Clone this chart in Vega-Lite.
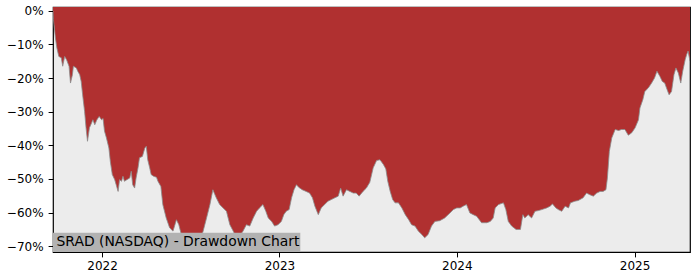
{
  "$schema": "https://vega.github.io/schema/vega-lite/v6.json",
  "width": 637,
  "height": 245,
  "autosize": {"type": "none"},
  "padding": {"left": 53, "top": 7, "right": 10, "bottom": 28},
  "background": "white",
  "config": {
    "view": {"fill": "#ececec", "stroke": "#000000", "strokeWidth": 1.2},
    "font": "DejaVu Sans",
    "axis": {
      "labelFont": "DejaVu Sans",
      "labelFontSize": 12,
      "labelColor": "#000000",
      "tickColor": "#000000",
      "tickSize": 4.9,
      "tickWidth": 1,
      "domain": false,
      "grid": false,
      "title": null,
      "labelOverlap": false
    }
  },
  "datasets": {
    "dd": [
      {"date": "2021-09-22", "dd": 0},
      {"date": "2021-09-23", "dd": -2.7},
      {"date": "2021-09-27", "dd": -8.1},
      {"date": "2021-09-30", "dd": -11.1},
      {"date": "2021-10-04", "dd": -13.6},
      {"date": "2021-10-09", "dd": -14},
      {"date": "2021-10-12", "dd": -16.5},
      {"date": "2021-10-16", "dd": -13.6},
      {"date": "2021-10-20", "dd": -14.6},
      {"date": "2021-10-25", "dd": -16.5},
      {"date": "2021-10-28", "dd": -21.5},
      {"date": "2021-11-01", "dd": -19},
      {"date": "2021-11-03", "dd": -16.5},
      {"date": "2021-11-09", "dd": -17},
      {"date": "2021-11-12", "dd": -18},
      {"date": "2021-11-16", "dd": -19},
      {"date": "2021-11-19", "dd": -21},
      {"date": "2021-11-22", "dd": -25},
      {"date": "2021-11-26", "dd": -29.9},
      {"date": "2021-11-29", "dd": -34.8},
      {"date": "2021-12-02", "dd": -38.8},
      {"date": "2021-12-06", "dd": -34.8},
      {"date": "2021-12-10", "dd": -33.5},
      {"date": "2021-12-13", "dd": -32.4},
      {"date": "2021-12-17", "dd": -33.9},
      {"date": "2021-12-21", "dd": -32.5},
      {"date": "2021-12-26", "dd": -31.4},
      {"date": "2021-12-31", "dd": -32.4},
      {"date": "2022-01-03", "dd": -32},
      {"date": "2022-01-06", "dd": -35.8},
      {"date": "2022-01-10", "dd": -37.8},
      {"date": "2022-01-15", "dd": -40.8},
      {"date": "2022-01-18", "dd": -44.8},
      {"date": "2022-01-22", "dd": -48.7},
      {"date": "2022-01-27", "dd": -50.2},
      {"date": "2022-01-30", "dd": -51.7},
      {"date": "2022-02-03", "dd": -53.7},
      {"date": "2022-02-06", "dd": -50.2},
      {"date": "2022-02-10", "dd": -50.7},
      {"date": "2022-02-13", "dd": -49.2},
      {"date": "2022-02-16", "dd": -50.7},
      {"date": "2022-02-21", "dd": -50.2},
      {"date": "2022-02-27", "dd": -49.7},
      {"date": "2022-03-02", "dd": -47.7},
      {"date": "2022-03-05", "dd": -51.7},
      {"date": "2022-03-09", "dd": -52.7},
      {"date": "2022-03-12", "dd": -49.7},
      {"date": "2022-03-16", "dd": -46.7},
      {"date": "2022-03-19", "dd": -43.7},
      {"date": "2022-03-25", "dd": -43.3},
      {"date": "2022-03-30", "dd": -40.8},
      {"date": "2022-04-02", "dd": -40.3},
      {"date": "2022-04-05", "dd": -44.3},
      {"date": "2022-04-09", "dd": -46.7},
      {"date": "2022-04-12", "dd": -48.7},
      {"date": "2022-04-17", "dd": -49.2},
      {"date": "2022-04-23", "dd": -49.5},
      {"date": "2022-04-26", "dd": -50.7},
      {"date": "2022-05-02", "dd": -52.2},
      {"date": "2022-05-06", "dd": -57.6},
      {"date": "2022-05-13", "dd": -61.6},
      {"date": "2022-05-20", "dd": -64.5},
      {"date": "2022-05-27", "dd": -65.5},
      {"date": "2022-06-03", "dd": -62.1},
      {"date": "2022-06-08", "dd": -63.6},
      {"date": "2022-06-13", "dd": -66.5},
      {"date": "2022-06-23", "dd": -68.5},
      {"date": "2022-07-04", "dd": -69.5},
      {"date": "2022-07-12", "dd": -71},
      {"date": "2022-07-21", "dd": -68.5},
      {"date": "2022-07-28", "dd": -65.5},
      {"date": "2022-08-04", "dd": -61.6},
      {"date": "2022-08-11", "dd": -57.6},
      {"date": "2022-08-17", "dd": -53.2},
      {"date": "2022-08-24", "dd": -55.6},
      {"date": "2022-08-31", "dd": -57.6},
      {"date": "2022-09-07", "dd": -58.6},
      {"date": "2022-09-14", "dd": -59.6},
      {"date": "2022-09-21", "dd": -63.6},
      {"date": "2022-09-28", "dd": -65.5},
      {"date": "2022-10-04", "dd": -67.5},
      {"date": "2022-10-11", "dd": -67},
      {"date": "2022-10-18", "dd": -65.5},
      {"date": "2022-10-25", "dd": -63.6},
      {"date": "2022-11-01", "dd": -64},
      {"date": "2022-11-08", "dd": -61.6},
      {"date": "2022-11-15", "dd": -59.6},
      {"date": "2022-11-21", "dd": -58.6},
      {"date": "2022-11-28", "dd": -57.6},
      {"date": "2022-12-04", "dd": -59.6},
      {"date": "2022-12-09", "dd": -61.6},
      {"date": "2022-12-16", "dd": -62.6},
      {"date": "2022-12-22", "dd": -64},
      {"date": "2022-12-29", "dd": -63.6},
      {"date": "2023-01-05", "dd": -62.6},
      {"date": "2023-01-10", "dd": -60.6},
      {"date": "2023-01-15", "dd": -59.6},
      {"date": "2023-01-21", "dd": -59.1},
      {"date": "2023-01-26", "dd": -55.6},
      {"date": "2023-01-31", "dd": -53.2},
      {"date": "2023-02-05", "dd": -51.7},
      {"date": "2023-02-10", "dd": -52.5},
      {"date": "2023-02-17", "dd": -53.2},
      {"date": "2023-02-25", "dd": -53.7},
      {"date": "2023-03-04", "dd": -54.2},
      {"date": "2023-03-10", "dd": -55.6},
      {"date": "2023-03-15", "dd": -58.1},
      {"date": "2023-03-22", "dd": -60.6},
      {"date": "2023-03-28", "dd": -58.6},
      {"date": "2023-04-04", "dd": -57.6},
      {"date": "2023-04-11", "dd": -56.6},
      {"date": "2023-04-18", "dd": -56.1},
      {"date": "2023-04-25", "dd": -55.6},
      {"date": "2023-05-02", "dd": -55.1},
      {"date": "2023-05-07", "dd": -52.7},
      {"date": "2023-05-12", "dd": -55.1},
      {"date": "2023-05-19", "dd": -53.2},
      {"date": "2023-05-26", "dd": -53.7},
      {"date": "2023-06-02", "dd": -54.2},
      {"date": "2023-06-08", "dd": -54.2},
      {"date": "2023-06-14", "dd": -55.1},
      {"date": "2023-06-22", "dd": -53.7},
      {"date": "2023-06-29", "dd": -52.7},
      {"date": "2023-07-06", "dd": -51},
      {"date": "2023-07-13", "dd": -46.7},
      {"date": "2023-07-20", "dd": -44.5},
      {"date": "2023-07-27", "dd": -44.3},
      {"date": "2023-08-03", "dd": -45.7},
      {"date": "2023-08-08", "dd": -47},
      {"date": "2023-08-12", "dd": -50.7},
      {"date": "2023-08-17", "dd": -53.7},
      {"date": "2023-08-22", "dd": -56.1},
      {"date": "2023-08-27", "dd": -57.1},
      {"date": "2023-09-03", "dd": -57.1},
      {"date": "2023-09-10", "dd": -58.6},
      {"date": "2023-09-17", "dd": -60.6},
      {"date": "2023-09-24", "dd": -62.1},
      {"date": "2023-09-30", "dd": -63.6},
      {"date": "2023-10-07", "dd": -64},
      {"date": "2023-10-14", "dd": -65.5},
      {"date": "2023-10-21", "dd": -66.5},
      {"date": "2023-10-27", "dd": -67.5},
      {"date": "2023-11-03", "dd": -66.5},
      {"date": "2023-11-10", "dd": -64},
      {"date": "2023-11-17", "dd": -62.6},
      {"date": "2023-11-27", "dd": -62.4},
      {"date": "2023-12-07", "dd": -61.6},
      {"date": "2023-12-18", "dd": -60.1},
      {"date": "2023-12-25", "dd": -59.1},
      {"date": "2024-01-01", "dd": -58.6},
      {"date": "2024-01-08", "dd": -58.6},
      {"date": "2024-01-14", "dd": -58.1},
      {"date": "2024-01-21", "dd": -57.6},
      {"date": "2024-01-28", "dd": -60.1},
      {"date": "2024-02-04", "dd": -60.6},
      {"date": "2024-02-11", "dd": -61.1},
      {"date": "2024-02-21", "dd": -63},
      {"date": "2024-03-03", "dd": -63},
      {"date": "2024-03-10", "dd": -62.6},
      {"date": "2024-03-16", "dd": -61.6},
      {"date": "2024-03-20", "dd": -58.6},
      {"date": "2024-03-27", "dd": -57.6},
      {"date": "2024-04-06", "dd": -57.1},
      {"date": "2024-04-11", "dd": -59.1},
      {"date": "2024-04-16", "dd": -62.6},
      {"date": "2024-04-23", "dd": -64},
      {"date": "2024-05-02", "dd": -65},
      {"date": "2024-05-11", "dd": -65},
      {"date": "2024-05-16", "dd": -60.6},
      {"date": "2024-05-20", "dd": -61.6},
      {"date": "2024-05-27", "dd": -60.6},
      {"date": "2024-06-03", "dd": -61.6},
      {"date": "2024-06-10", "dd": -59.6},
      {"date": "2024-06-17", "dd": -59.4},
      {"date": "2024-06-24", "dd": -59.1},
      {"date": "2024-07-04", "dd": -58.6},
      {"date": "2024-07-11", "dd": -58.1},
      {"date": "2024-07-16", "dd": -57.4},
      {"date": "2024-07-23", "dd": -58.6},
      {"date": "2024-07-28", "dd": -59.1},
      {"date": "2024-08-04", "dd": -59.6},
      {"date": "2024-08-11", "dd": -58.1},
      {"date": "2024-08-18", "dd": -58.6},
      {"date": "2024-08-22", "dd": -57.1},
      {"date": "2024-08-31", "dd": -56.6},
      {"date": "2024-09-07", "dd": -56.4},
      {"date": "2024-09-17", "dd": -55.6},
      {"date": "2024-09-24", "dd": -54.2},
      {"date": "2024-10-01", "dd": -54.7},
      {"date": "2024-10-08", "dd": -55.1},
      {"date": "2024-10-15", "dd": -54.2},
      {"date": "2024-10-22", "dd": -53.7},
      {"date": "2024-10-28", "dd": -53.7},
      {"date": "2024-11-03", "dd": -53.2},
      {"date": "2024-11-06", "dd": -49.7},
      {"date": "2024-11-10", "dd": -41.8},
      {"date": "2024-11-15", "dd": -37.8},
      {"date": "2024-11-22", "dd": -35.3},
      {"date": "2024-11-29", "dd": -35.6},
      {"date": "2024-12-05", "dd": -35.3},
      {"date": "2024-12-12", "dd": -35.3},
      {"date": "2024-12-19", "dd": -37},
      {"date": "2024-12-26", "dd": -36.3},
      {"date": "2025-01-02", "dd": -34.8},
      {"date": "2025-01-09", "dd": -32.4},
      {"date": "2025-01-12", "dd": -28.9},
      {"date": "2025-01-18", "dd": -26.4},
      {"date": "2025-01-22", "dd": -24},
      {"date": "2025-01-29", "dd": -23},
      {"date": "2025-02-05", "dd": -21.5},
      {"date": "2025-02-11", "dd": -20},
      {"date": "2025-02-16", "dd": -18},
      {"date": "2025-02-22", "dd": -19.5},
      {"date": "2025-02-27", "dd": -21},
      {"date": "2025-03-04", "dd": -21.5},
      {"date": "2025-03-09", "dd": -23.5},
      {"date": "2025-03-13", "dd": -25},
      {"date": "2025-03-18", "dd": -24},
      {"date": "2025-03-23", "dd": -19},
      {"date": "2025-03-27", "dd": -17},
      {"date": "2025-04-01", "dd": -18.5},
      {"date": "2025-04-06", "dd": -21.5},
      {"date": "2025-04-10", "dd": -18},
      {"date": "2025-04-15", "dd": -14.6},
      {"date": "2025-04-18", "dd": -13.1},
      {"date": "2025-04-21", "dd": -12},
      {"date": "2025-04-25", "dd": -15}
    ],
    "label": [{"label": "SRAD (NASDAQ) - Drawdown Chart"}]
  },
  "layer": [
    {
      "data": {"name": "dd"},
      "mark": {"type": "area", "color": "#b03030", "clip": true},
      "encoding": {
        "x": {
          "field": "date",
          "type": "temporal",
          "scale": {
            "type": "utc",
            "domain": [
              {"year": 2021, "month": 9, "date": 22, "utc": true},
              {"year": 2025, "month": 4, "date": 25, "utc": true}
            ],
            "nice": false
          },
          "axis": {"format": "%Y", "tickCount": "year", "labelPadding": 4, "labelFlush": false, "labelOverlap": false}
        },
        "y": {
          "field": "dd",
          "type": "quantitative",
          "scale": {"domain": [-71.7, 1.1], "nice": false, "zero": false},
          "axis": {
            "values": [0, -10, -20, -30, -40, -50, -60, -70],
            "tickCount": 20,
            "labelExpr": "datum.value == 0 ? '0%' : '\u2212' + abs(datum.value) + '%'",
            "labelPadding": 5,
            "labelOverlap": false
          }
        },
        "y2": {"datum": 1.1}
      }
    },
    {
      "data": {"name": "dd"},
      "mark": {"type": "line", "stroke": "#8c8c8c", "strokeWidth": 0.8, "clip": true},
      "encoding": {
        "x": {"field": "date", "type": "temporal"},
        "y": {"field": "dd", "type": "quantitative"}
      }
    },
    {
      "data": {"name": "label"},
      "mark": {"type": "rect", "color": "#b2b2b2"},
      "encoding": {
        "x": {"datum": {"year": 2021, "month": 9, "date": 22, "utc": true}, "type": "temporal"},
        "x2": {"datum": {"year": 2023, "month": 2, "date": 13, "utc": true}},
        "y": {"datum": -66, "type": "quantitative"},
        "y2": {"datum": -71.7}
      }
    },
    {
      "data": {"name": "label"},
      "mark": {"type": "text", "align": "left", "baseline": "alphabetic", "dx": 3.5, "dy": -5.6, "fontSize": 13.9, "font": "DejaVu Sans", "color": "#000000"},
      "encoding": {
        "x": {"datum": {"year": 2021, "month": 9, "date": 22, "utc": true}, "type": "temporal"},
        "y": {"datum": -71.7, "type": "quantitative"},
        "text": {"field": "label"}
      }
    }
  ]
}
